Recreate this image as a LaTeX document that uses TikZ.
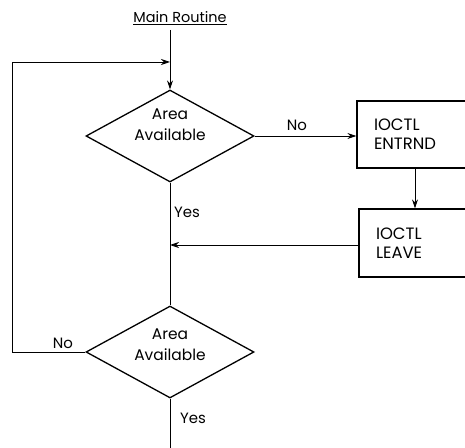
\documentclass[tikz,border=0pt]{standalone}
\usepackage{fontspec}
\setmainfont{Poppins}
\usetikzlibrary{shapes.geometric,arrows.meta,calc}
\begin{document}
\begin{tikzpicture}[x=1bp,y=-1bp,
  every node/.style={font=\fontsize{15}{18}\selectfont},
  dec/.style={diamond,draw,line width=1.3bp,minimum width=168bp,minimum height=92bp,inner sep=0pt},
  dtext/.style={align=center,font=\fontsize{15.5}{21}\selectfont},
  procbox/.style={draw,line width=1.3bp,align=left,inner xsep=17bp,text width=79bp,font=\fontsize{16.5}{19}\selectfont},
  conn/.style={line width=0.8bp},
  arr/.style={conn,-{Stealth[length=9bp,width=6bp]}},
  lbl/.style={inner sep=0pt}]
\useasboundingbox (0,0) rectangle (465,448);
\clip (0,0) rectangle (465,448);
\node[lbl,font=\fontsize{14.5}{17}\selectfont] (title) at (180,18) {\underline{Main Routine}};
\node[dec] (d1) at (170,136) {};
\node[dtext] (t1) at (170,125) {Area\\Available};
\node[dec] (d2) at (170,352) {};
\node[dtext] (t2) at (170,345) {Area\\Available};
\node[procbox,minimum height=67bp] (b1) at (413.5,134.5) {IOCTL\\ENTRND};
\node[procbox,minimum height=68bp,text width=77bp] (b2) at (414.5,243) {IOCTL\\LEAVE};
\coordinate (j1) at (170,62);
\coordinate (j2) at (170,245);
\coordinate (top) at (170,30);
\coordinate (bot) at (170,448);
\node[lbl] (no1) at (297,125) {No};
\node[lbl] (yes1) at (187,212) {Yes};
\node[lbl] (no2) at (63,343) {No};
\node[lbl] (yes2) at (193,418) {Yes};
\draw[arr] (top) -- (d1.north);
\draw[arr] (d1.east) -- (d1.east -| b1.west);
\draw[arr] (b1.south -| 415,0) -- (b2.north -| 415,0);
\draw[arr] (b2.west |- j2) -- (j2);
\draw[conn] (d1.south) -- (d2.north);
\draw[conn] (d2.south) -- (bot);
\draw[arr] (d2.west) -- (12,352) |- (j1);
\end{tikzpicture}
\end{document}
